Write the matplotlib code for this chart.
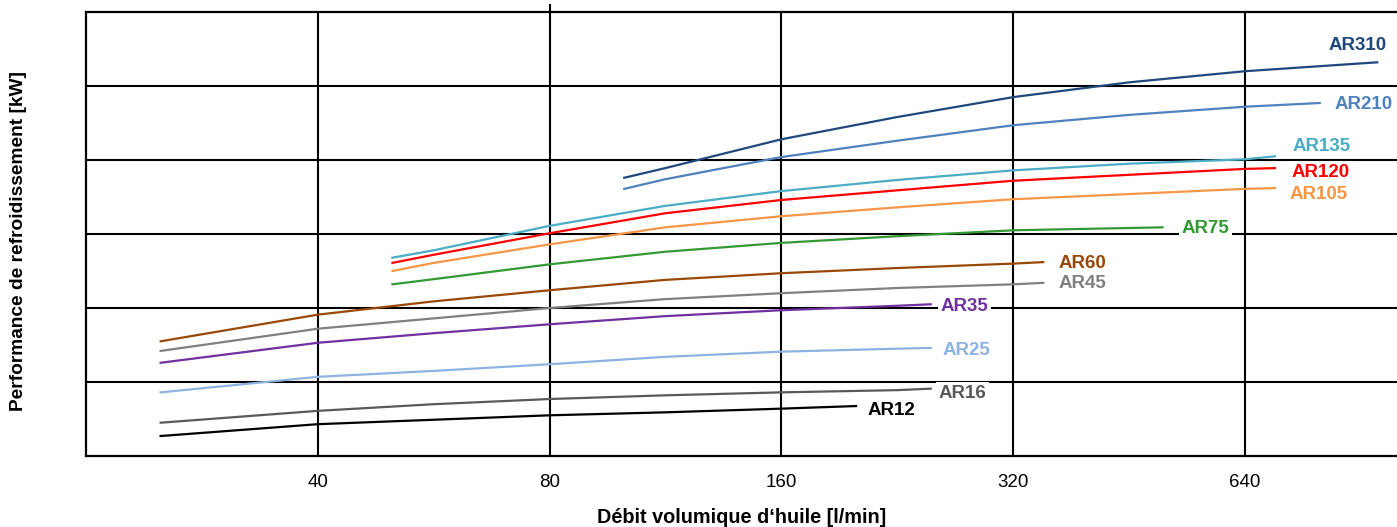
"""
Cooling performance vs oil flow for the AR cooler range.
Output -> out.png
"""
import matplotlib
matplotlib.use('Agg')
import matplotlib.pyplot as plt
from matplotlib.ticker import FixedLocator, NullFormatter, NullLocator

plt.rcParams.update({'font.family': ['Liberation Sans', 'DejaVu Sans']})

# flow [l/min] and performance (read in grid units, one unit per y gridline)
models = ['AR12', 'AR16', 'AR25', 'AR35', 'AR45', 'AR60', 'AR75',
          'AR105', 'AR120', 'AR135', 'AR210', 'AR310']
colors = ['#000000', '#595959', '#8db3e2', '#7030a0', '#808080', '#984807',
          '#339933', '#f79646', '#ff0000', '#4bacc6', '#4f81bd', '#1f497d']

flow = {
    'AR12':  [25, 40, 56.6, 80, 113, 160, 200],
    'AR16':  [25, 40, 56.6, 80, 113, 160, 226, 250],
    'AR25':  [25, 40, 56.6, 80, 113, 160, 226, 250],
    'AR35':  [25, 40, 56.6, 80, 113, 160, 226, 250],
    'AR45':  [25, 40, 56.6, 80, 113, 160, 226, 320, 350],
    'AR60':  [25, 40, 56.6, 80, 113, 160, 226, 320, 350],
    'AR75':  [50, 56.6, 80, 113, 160, 226, 320, 500],
    'AR105': [50, 56.6, 80, 113, 160, 226, 320, 453, 640, 700],
    'AR120': [50, 56.6, 80, 113, 160, 226, 320, 453, 640, 700],
    'AR135': [50, 56.6, 80, 113, 160, 226, 320, 453, 640, 700],
    'AR210': [100, 113, 160, 226, 320, 453, 640, 800],
    'AR310': [100, 113, 160, 226, 320, 453, 640, 950],
}
perf = {
    'AR12':  [0.27, 0.43, 0.49, 0.55, 0.59, 0.64, 0.675],
    'AR16':  [0.45, 0.61, 0.70, 0.77, 0.82, 0.86, 0.89, 0.91],
    'AR25':  [0.86, 1.07, 1.15, 1.24, 1.34, 1.41, 1.45, 1.46],
    'AR35':  [1.26, 1.53, 1.66, 1.78, 1.89, 1.97, 2.03, 2.05],
    'AR45':  [1.42, 1.72, 1.86, 2.00, 2.12, 2.20, 2.27, 2.32, 2.34],
    'AR60':  [1.55, 1.91, 2.09, 2.24, 2.38, 2.47, 2.54, 2.60, 2.62],
    'AR75':  [2.32, 2.39, 2.59, 2.76, 2.88, 2.97, 3.05, 3.09],
    'AR105': [2.50, 2.61, 2.86, 3.09, 3.24, 3.36, 3.47, 3.54, 3.61, 3.62],
    'AR120': [2.61, 2.72, 3.01, 3.28, 3.46, 3.59, 3.72, 3.80, 3.88, 3.89],
    'AR135': [2.68, 2.78, 3.11, 3.38, 3.58, 3.73, 3.86, 3.95, 4.01, 4.05],
    'AR210': [3.61, 3.74, 4.04, 4.26, 4.47, 4.61, 4.72, 4.77],
    'AR310': [3.76, 3.89, 4.28, 4.58, 4.85, 5.05, 5.20, 5.32],
}
xticks = [40, 80, 160, 320, 640]

# label offsets from the curve end, in pixels
label_off = {
    'AR12': (11, -4), 'AR16': (8, -5), 'AR25': (12, -3), 'AR35': (10, -2),
    'AR45': (15, -1), 'AR60': (15, -1), 'AR75': (19, -1), 'AR105': (14, -6),
    'AR120': (16, -4), 'AR135': (17, 10), 'AR210': (15, -1), 'AR310': (-49, 17),
}

W, H = 1397, 527
fig = plt.figure(figsize=(W / 100, H / 100), dpi=100)
ax = fig.add_axes([86 / W, (H - 456) / H, 1 - 86 / W, 444 / H])

ax.set_xscale('log', base=2)
ax.set_xlim(20, 1008)
ax.set_ylim(0, 6)

ax.xaxis.set_major_locator(FixedLocator(xticks))
ax.xaxis.set_minor_locator(NullLocator())
ax.set_xticklabels([str(t) for t in xticks])
ax.yaxis.set_major_locator(FixedLocator([1, 2, 3, 4, 5]))
ax.yaxis.set_major_formatter(NullFormatter())
ax.tick_params(axis='both', length=0, labelsize=13.5, pad=13)
ax.grid(True, color='black', lw=1.5, zorder=1)
ax.axvline(80, ymin=1, ymax=1.016, color='black', lw=1.5, clip_on=False)
for s in ('left', 'top', 'bottom'):
    ax.spines[s].set_linewidth(1.6)
ax.spines['right'].set_visible(False)

for m, c in zip(models, colors):
    x, y = flow[m], perf[m]
    ax.plot(x, y, color=c, lw=1.6, zorder=3)
    ax.annotate(m, xy=(x[-1], y[-1]), xytext=label_off[m],
                textcoords='offset pixels', ha='left', va='center',
                color=c, fontsize=13.5, fontweight='bold', zorder=4,
                bbox=dict(boxstyle='square,pad=0.15', fc='white', ec='none'))

ax.set_xlabel("Débit volumique d\u2018huile [l/min]", fontsize=14.3,
              fontweight='bold', va='top')
ax.xaxis.set_label_coords(0.5, -(508 - 456) / 444)
ax.set_ylabel('Performance de refroidissement [kW]', fontsize=13.8,
              fontweight='bold')
ax.yaxis.set_label_coords(-(86 - 27) / (W - 86), 0.484)

fig.savefig('out.png', dpi=100)
